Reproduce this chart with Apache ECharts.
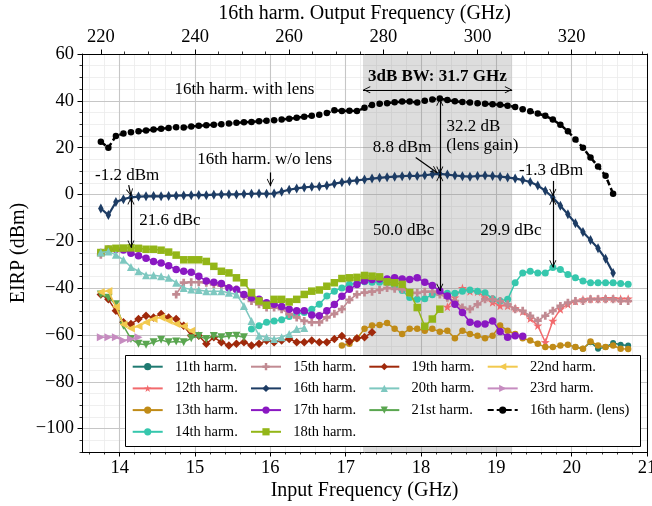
<!DOCTYPE html>
<html>
<head>
<meta charset="utf-8">
<title>EIRP vs input frequency</title>
<script src="https://cdn.jsdelivr.net/npm/echarts@6/dist/echarts.min.js"></script>
<style>
  html, body { margin: 0; padding: 0; background: #ffffff; }
  #chart { width: 652px; height: 506px; }
</style>
</head>
<body>
<div id="chart"></div>
<script>
// ---------------- measured sweeps (input frequency step 0.1 GHz) ----------------
const FREQ_STEP = 0.1;

// 16th harmonic, with lens
const lensStart = 13.75;
const lensEIRP = [
  22.5, 20.0, 25.0, 26.0, 26.6, 27.0, 27.3, 27.7, 28.1, 28.4,
  28.7, 28.6, 29.0, 29.3, 29.6, 29.8, 30.0, 30.3, 30.6, 30.8,
  31.0, 31.3, 31.5, 31.7, 32.0, 32.3, 32.8, 33.2, 33.6, 34.0,
  34.8, 36.0, 35.6, 35.8, 35.6, 37.0, 38.2, 38.7, 39.0, 39.4,
  39.7, 39.7, 39.3, 40.0, 40.6, 41.0, 40.3, 39.8, 39.5, 39.3,
  39.0, 38.8, 38.5, 38.3, 37.9, 37.4, 36.4, 35.5, 34.6, 33.6,
  32.0, 29.8, 27.0, 23.5, 20.0, 15.8, 12.0, 8.0, 0.3
];

// 16th harmonic, without lens
const noLensStart = 13.75;
const noLensEIRP = [
  -6.0, -8.8, -3.2, -2.0, -1.2, -0.9, -0.8, -0.7, -0.8, -0.6,
  -0.5, -0.4, -0.3, -0.2, -0.3, -0.1, 0.0, 0.1, 0.0, 0.2,
  0.3, 0.4, 0.3, 0.4, 1.2, 2.0, 2.6, 3.0, 3.3, 3.4,
  3.8, 4.6, 5.2, 5.7, 6.0, 6.4, 6.8, 7.1, 7.4, 7.6,
  7.8, 8.0, 7.9, 8.2, 8.6, 8.8, 8.5, 8.1, 7.8, 7.6,
  7.9, 8.1, 7.9, 7.6, 7.3, 6.8, 6.2, 5.3, 3.8, 1.6,
  -1.3, -4.8, -8.5, -12.3, -16.0, -19.5, -23.0, -27.5, -33.5
];

// other harmonics (first measured frequency + readings)
const h11Start = 20.05;
const h11 = [-65.2, -65.9, -63.1, -65.9, -65.2, -63.4, -64.2, -64.5];

const h12Start = 18.35;
const h12 = [
  -48.0, -44.0, -40.0, -41.3, -41.5, -44.0, -46.0, -47.5, -47.5, -48.5,
  -50.0, -53.0, -56.0, -63.1, -54.0, -49.0, -46.9, -45.5, -44.8, -44.5,
  -44.5, -44.3, -44.3, -44.5, -44.5
];

const h13Start = 16.95;
const h13 = [
  -64.5, -63.8, -61.5, -57.4, -56.0, -55.8, -54.9, -57.4, -59.6, -57.4,
  -57.4, -58.2, -57.4, -58.6, -58.2, -61.4, -58.2, -59.6, -60.3, -61.4,
  -60.3, -56.0, -58.2, -59.6, -61.4, -62.4, -63.8, -65.2, -65.2, -64.5,
  -64.2, -65.2, -65.9, -62.8, -64.5, -65.2, -64.5, -65.9, -66.0
];

const h14Start = 15.75;
const h14 = [
  -57.5, -56.1, -54.6, -54.0, -53.5, -52.1, -51.1, -50.4, -49.0, -46.9,
  -43.4, -41.3, -39.9, -38.4, -37.7, -37.3, -37.5, -37.5, -37.7, -39.5,
  -41.0, -44.0, -44.8, -44.5, -42.8, -42.0, -42.2, -42.2, -41.3, -40.8,
  -41.3, -42.0, -44.5, -45.5, -44.8, -37.7, -33.5, -32.8, -33.5, -33.5,
  -31.2, -32.1, -34.2, -35.6, -37.0, -37.7, -37.7, -37.7, -37.7, -38.0,
  -38.4
];

const h15Start = 13.75;
const h15 = [
  -25.8, null, null, null, null, null, null, null, null, null,
  -42.7, -37.7, -37.5, -37.5, -37.7, -38.4, -38.9, -39.9, -40.6, -43.4,
  -45.5, -46.9, -48.3, -48.3, -49.0, -51.1, -52.5, -54.0, -54.6, -54.6,
  -52.5, -51.0, -49.0, -45.0, -42.7, -41.9, -41.5, -40.8, -40.0, -40.3,
  -40.5, -42.0, -42.0, -41.5, -41.5, -42.7, -44.1, -45.5, -48.3, -49.0,
  -46.9, -44.8, -44.8, -45.5, -46.9, -49.0, -49.7, -51.8, -53.9, -51.8,
  -49.7, -47.6, -46.2, -45.5, -45.5, -44.8, -44.8, -44.8, -44.8, -45.5,
  -45.5
];

const h17Start = 13.75;
const h17 = [
  -24.8, -23.4, -23.4, -23.7, -25.1, -26.2, -27.2, -28.6, -29.3, -30.4,
  -32.1, -32.8, -33.2, -34.9, -37.0, -37.5, -38.0, -39.9, -40.6, -42.7,
  -44.1, -44.8, -46.2, -46.9, -47.9, -49.0, -49.7, -49.7, -51.5, -51.8,
  -49.7, -47.0, -43.5, -40.5, -38.5, -37.0, -36.3, -36.1, -36.1, -35.6,
  -36.1, -36.3, -35.6, -37.5, -38.9, -41.2, -43.4, -46.9, -50.4, -54.6,
  -55.3, -55.3, -54.0, -58.5, -61.0, -60.3, -60.6
];

const h18Start = 13.75;
const h18 = [
  -24.8, -23.3, -23.0, -22.9, -22.8, -23.0, -23.4, -23.4, -23.8, -24.6,
  -25.9, -27.9, -27.9, -27.9, -28.6, -30.7, -32.8, -33.5, -35.6, -37.7,
  -42.0, -45.5, -47.3, -44.8, -44.8, -45.9, -44.8, -42.7, -41.3, -40.8,
  -39.2, -37.7, -35.9, -35.6, -35.4, -34.6, -34.9, -35.2, -37.3, -37.7,
  -38.4, -41.9, -48.3, -56.3, -53.2, -49.0
];

const h19Start = 13.75;
const h19 = [
  -42.7, -44.8, -49.7, -54.6, -55.3, -53.2, -51.8, -52.5, -51.1, -52.5,
  -53.2, -56.1, -60.3, -60.3, -63.8, -61.0, -63.1, -64.5, -63.8, -63.1,
  -64.5, -63.8, -62.4, -63.1, -62.4, -61.7, -63.1, -63.1, -62.4, -63.1,
  -63.1, -61.7, -60.5, -62.8, -61.4, -61.0, -58.8
];

const h20Start = 13.75;
const h20 = [
  -24.8, -24.4, -25.8, -27.9, -31.0, -32.8, -34.5, -34.5, -34.9, -35.6,
  -37.7, -39.9, -40.6, -40.8, -41.3, -41.3, -41.3, -42.0, -42.7, -47.6,
  -54.0, -60.3, -61.0, -61.7, -61.0, -59.6, -57.5, -57.0
];

const h21Start = 13.75;
const h21 = [
  -42.7, -44.1, -46.9, -56.1, -61.7, -63.8, -64.2, -63.1, -62.1, -63.1,
  -62.8, -63.1, -61.4, -60.5, -61.7, -60.5, -61.0, -60.5, -60.3, -61.0
];

const h22Start = 13.75;
const h22 = [-41.7, -41.2, -48.0, -55.5, -57.2, -56.3, -54.6, -53.2, -52.5, -53.9, -55.3, -56.3, -58.2];

const h23Start = 13.75;
const h23 = [-61.0, -61.0, -61.0, -62.4, -61.7, -61.0];

// 3 dB bandwidth of the lens output (input-frequency edges, GHz)
const bwEdges = [17.23, 19.21];

// axis tick values
const inputTicks = [14, 21, 1];        // first, last, step (GHz)
const outputTicks = [220, 340, 20];    // 16th harmonic output frequency (GHz)
const eirpTicks = [-100, 60, 20];      // dBm

// legend layout: column-wise
const legendColumns = [
  ['11th harm.', '12th harm.', '13th harm.', '14th harm.'],
  ['15th harm.', '16th harm.', '17th harm.', '18th harm.'],
  ['19th harm.', '20th harm.', '21st harm.'],
  ['22nd harm.', '23rd harm.', '16th harm. (lens)']
];

// ---------------- drawing ----------------
const FONT = '"Liberation Serif", "Times New Roman", serif';
const PLOT = { left: 82, right: 5, top: 54, bottom: 54 };
const X_RANGE = [13.5, 21];
const Y_RANGE = [-110, 60];
const CW = 652, CH = 506;
const pxPerGHz = (CW - PLOT.left - PLOT.right) / (X_RANGE[1] - X_RANGE[0]);
const pxPerDb = (CH - PLOT.top - PLOT.bottom) / (Y_RANGE[1] - Y_RANGE[0]);
const HARM = 16;

const STAR = 'path://M0,-10 L2.35,-3.24 L9.51,-3.09 L3.8,1.24 L5.88,8.09 L0,4 L-5.88,8.09 L-3.8,1.24 L-9.51,-3.09 L-2.35,-3.24 Z';
const PLUS = 'path://M-1.7,-5 L1.7,-5 L1.7,-1.7 L5,-1.7 L5,1.7 L1.7,1.7 L1.7,5 L-1.7,5 L-1.7,1.7 L-5,1.7 L-5,-1.7 L-1.7,-1.7 Z';
const TRI_DOWN = 'path://M-5.8,-5 L5.8,-5 L0,5 Z';
const TRI_LEFT = 'path://M-5,0 L5,-5.8 L5,5.8 Z';
const TRI_RIGHT = 'path://M5,0 L-5,-5.8 L-5,5.8 Z';
// open arrow head; the tip sits at the centre of the symbol box
const ARROW = 'path://M0,-9.6 M0,0 L5,9 L4,9.6 L0,2.3 L-4,9.6 L-5,9 Z';

function pairs(start, values) {
  return values.map((v, i) => [Math.round((start + i * FREQ_STEP) * 100) / 100, v]);
}
function valueAt(start, values, f) {
  return values[Math.round((f - start) / FREQ_STEP)];
}

const traces = [
  { name: '11th harm.', start: h11Start, values: h11, color: '#1f7a71', symbol: 'circle', size: 6 },
  { name: '12th harm.', start: h12Start, values: h12, color: '#f26a6d', symbol: STAR, size: 9 },
  { name: '13th harm.', start: h13Start, values: h13, color: '#c08b17', symbol: 'circle', size: 6.5 },
  { name: '14th harm.', start: h14Start, values: h14, color: '#36c7ad', symbol: 'circle', size: 7 },
  { name: '15th harm.', start: h15Start, values: h15, color: '#c18a92', symbol: PLUS, size: 8 },
  { name: '16th harm.', start: noLensStart, values: noLensEIRP, color: '#1d3c64', symbol: 'diamond', size: [5.5, 10], width: 2.2 },
  { name: '17th harm.', start: h17Start, values: h17, color: '#8a18c2', symbol: 'circle', size: 7.5 },
  { name: '18th harm.', start: h18Start, values: h18, color: '#93b618', symbol: 'rect', size: 7.5 },
  { name: '19th harm.', start: h19Start, values: h19, color: '#a0290b', symbol: 'diamond', size: 8.5 },
  { name: '20th harm.', start: h20Start, values: h20, color: '#7ec8c0', symbol: 'triangle', size: 8 },
  { name: '21st harm.', start: h21Start, values: h21, color: '#5aa650', symbol: TRI_DOWN, size: 8 },
  { name: '22nd harm.', start: h22Start, values: h22, color: '#f2c94e', symbol: TRI_LEFT, size: 8 },
  { name: '23rd harm.', start: h23Start, values: h23, color: '#c68cc0', symbol: TRI_RIGHT, size: 8 },
  { name: '16th harm. (lens)', start: lensStart, values: lensEIRP, color: '#000000', symbol: 'circle', size: 6.5, width: 2.5, dash: [6, 3] }
];

const series = [];

// shaded 3 dB band
series.push({
  type: 'line', name: 'band', data: [], xAxisIndex: 0, yAxisIndex: 0, z: 1, silent: true,
  markArea: {
    silent: true,
    itemStyle: { color: 'rgba(128,128,128,0.27)' },
    data: [[{ xAxis: bwEdges[0] }, { xAxis: bwEdges[1] }]]
  }
});

traces.forEach((t, i) => {
  series.push({
    type: 'line', name: t.name, xAxisIndex: 0, yAxisIndex: 0,
    data: pairs(t.start, t.values),
    symbol: t.symbol, symbolSize: t.size, connectNulls: false,
    lineStyle: { color: t.color, width: t.width || 1.5, type: t.dash || 'solid' },
    itemStyle: { color: t.color },
    emphasis: { disabled: true },
    z: 2 + i * 0.01
  });
});

// annotation values taken from the sweeps
const fLow = 14.15, fMid = 18.25, fHigh = 19.75;
const lowCarrier = valueAt(noLensStart, noLensEIRP, fLow);
const lowSpur = valueAt(h18Start, h18, fLow);
const midCarrier = valueAt(noLensStart, noLensEIRP, fMid);
const midLens = valueAt(lensStart, lensEIRP, fMid);
const midSpur = valueAt(h17Start, h17, fMid);
const highCarrier = valueAt(noLensStart, noLensEIRP, fHigh);
const highSpur = valueAt(h14Start, h14, fHigh);

const A = ARROW, N = 'none';
const arrows = [
  [[bwEdges[0], 44.7, A], [bwEdges[1], 44.7, A]],
  [[16.0, 9.4, N], [16.0, 3.5, A]],
  [[14.12, 4.0, N], [fLow, lowCarrier + 0.5, A]],
  [[fLow, lowCarrier, A], [fLow, lowSpur, A]],
  [[17.93, 15.8, N], [fMid - 0.03, midCarrier + 0.4, A]],
  [[fMid, midCarrier, A], [fMid, midLens, A]],
  [[fMid, midCarrier, A], [fMid, midSpur, A]],
  [[fHigh, 5.8, N], [fHigh, highCarrier + 0.5, A]],
  [[fHigh, highCarrier, A], [fHigh, highSpur, A]]
];

const notes = [
  [18.217, 50.3, '3dB BW: 31.7 GHz', 'bold'],
  [15.657, 44.8, '16th harm. with lens'],
  [15.925, 15.1, '16th harm. w/o lens'],
  [14.10, 8.2, '-1.2 dBm'],
  [14.666, -11.0, '21.6 dBc'],
  [17.749, 20.0, '8.8 dBm'],
  [18.695, 29.2, '32.2 dB'],
  [18.815, 20.7, '(lens gain)'],
  [17.77, -15.6, '50.0 dBc'],
  [19.728, 10.1, '-1.3 dBm'],
  [19.193, -15.6, '29.9 dBc']
];

series.push({
  type: 'line', name: 'notes', data: [], xAxisIndex: 0, yAxisIndex: 0, z: 6, silent: true,
  markLine: {
    silent: true, animation: false, precision: 4,
    symbolSize: [7, 15],
    lineStyle: { color: '#000', width: 1.2, type: 'solid' },
    label: { show: false },
    data: arrows.map(([a, b]) => [
      { coord: [a[0], a[1]], symbol: a[2] },
      { coord: [b[0], b[1]], symbol: b[2] }
    ])
  },
  markPoint: {
    silent: true, animation: false,
    symbol: 'circle', symbolSize: 1,
    itemStyle: { color: 'rgba(0,0,0,0)' },
    label: { show: true, position: 'inside', color: '#000', fontFamily: FONT, fontSize: 17 },
    data: notes.map(n => ({
      coord: [n[0], n[1]],
      label: { formatter: n[2], fontWeight: n[3] || 'normal' }
    }))
  }
});

const tickText = { fontFamily: FONT, fontSize: 18.5, color: '#000' };
const nameText = { fontFamily: FONT, fontSize: 20, color: '#000' };
const minus = v => (v < 0 ? '\u2212' + Math.abs(v) : String(v));
const majorSplit = { show: true, lineStyle: { color: '#c6c6c6', width: 1.1 } };
const minorSplit = { show: true, lineStyle: { color: '#ebebeb', width: 0.8 } };
const majorTick = { show: true, inside: false, length: 4.5, lineStyle: { color: '#000', width: 1 } };
const minorTick = { show: true, inside: false, length: 2.5, lineStyle: { color: '#000', width: 0.8 } };
const hiddenAxis = (gridIndex, min, max) => ({ type: 'value', gridIndex, min, max, show: false });

const grids = [
  // 0: data area
  { left: PLOT.left, right: PLOT.right, top: PLOT.top, bottom: PLOT.bottom },
  // 1: input-frequency major ticks / grid
  { left: PLOT.left + (inputTicks[0] - X_RANGE[0]) * pxPerGHz, right: PLOT.right, top: PLOT.top, bottom: PLOT.bottom },
  // 2: input-frequency minor ticks / grid (0.2 GHz)
  { left: PLOT.left + (13.6 - X_RANGE[0]) * pxPerGHz, right: PLOT.right, top: PLOT.top, bottom: PLOT.bottom },
  // 3: EIRP major ticks / grid
  { left: PLOT.left, right: PLOT.right, top: PLOT.top, bottom: PLOT.bottom + (eirpTicks[0] - Y_RANGE[0]) * pxPerDb },
  // 4: EIRP minor ticks / grid (5 dB)
  { left: PLOT.left, right: PLOT.right, top: PLOT.top, bottom: PLOT.bottom },
  // 5, 6: output-frequency ticks (16 x input)
  { left: PLOT.left + (outputTicks[0] / HARM - X_RANGE[0]) * pxPerGHz, right: PLOT.right - (outputTicks[1] / HARM - X_RANGE[1]) * pxPerGHz, top: PLOT.top, bottom: PLOT.bottom },
  { left: PLOT.left + (outputTicks[0] / HARM - X_RANGE[0]) * pxPerGHz, right: PLOT.right - (outputTicks[1] / HARM - X_RANGE[1]) * pxPerGHz, top: PLOT.top, bottom: PLOT.bottom }
].map(g => Object.assign({ outerBoundsMode: 'none', containLabel: false }, g));

const xAxes = [
  // data axis (bottom frame + title)
  {
    type: 'value', gridIndex: 0, position: 'bottom', min: X_RANGE[0], max: X_RANGE[1], z: 10,
    name: 'Input Frequency (GHz)', nameLocation: 'middle', nameGap: 29, nameTextStyle: nameText,
    axisLine: { show: true, onZero: false, lineStyle: { color: '#000', width: 1 } },
    axisTick: { show: false }, axisLabel: { show: false }, splitLine: { show: false }
  },
  // top frame + title
  {
    type: 'value', gridIndex: 0, position: 'top', min: X_RANGE[0], max: X_RANGE[1], z: 10,
    name: '16th harm. Output Frequency (GHz)', nameLocation: 'middle', nameGap: 30, nameTextStyle: nameText,
    axisLine: { show: true, onZero: false, lineStyle: { color: '#000', width: 1 } },
    axisTick: { show: false }, axisLabel: { show: false }, splitLine: { show: false }
  },
  {
    type: 'value', gridIndex: 1, position: 'bottom', min: inputTicks[0], max: inputTicks[1], interval: inputTicks[2], z: 1,
    axisLine: { show: false, onZero: false }, axisTick: majorTick,
    axisLabel: Object.assign({ margin: 7 }, tickText), splitLine: majorSplit
  },
  {
    type: 'value', gridIndex: 2, position: 'bottom', min: 13.6, max: X_RANGE[1], interval: 0.2, z: 0,
    axisLine: { show: false, onZero: false }, axisTick: minorTick,
    axisLabel: { show: false }, splitLine: minorSplit
  },
  hiddenAxis(3, X_RANGE[0], X_RANGE[1]),
  hiddenAxis(4, X_RANGE[0], X_RANGE[1]),
  {
    type: 'value', gridIndex: 5, position: 'top', min: outputTicks[0], max: outputTicks[1], interval: outputTicks[2], z: 1,
    axisLine: { show: false, onZero: false }, axisTick: majorTick,
    axisLabel: Object.assign({ margin: 7, showMaxLabel: false }, tickText), splitLine: { show: false }
  },
  {
    type: 'value', gridIndex: 6, position: 'top', min: outputTicks[0], max: outputTicks[1], interval: 5, z: 1,
    axisLine: { show: false, onZero: false }, axisTick: minorTick,
    axisLabel: { show: false }, splitLine: { show: false }
  }
];

const yAxes = [
  {
    type: 'value', gridIndex: 0, position: 'left', min: Y_RANGE[0], max: Y_RANGE[1], z: 10,
    name: 'EIRP (dBm)', nameLocation: 'middle', nameGap: 53, nameRotate: 90, nameTextStyle: nameText,
    axisLine: { show: true, onZero: false, lineStyle: { color: '#000', width: 1 } },
    axisTick: { show: false }, axisLabel: { show: false }, splitLine: { show: false }
  },
  {
    type: 'value', gridIndex: 0, position: 'right', min: Y_RANGE[0], max: Y_RANGE[1], z: 10,
    axisLine: { show: true, onZero: false, lineStyle: { color: '#000', width: 1 } },
    axisTick: { show: false }, axisLabel: { show: false }, splitLine: { show: false }
  },
  hiddenAxis(1, Y_RANGE[0], Y_RANGE[1]),
  hiddenAxis(2, Y_RANGE[0], Y_RANGE[1]),
  {
    type: 'value', gridIndex: 3, position: 'left', min: eirpTicks[0], max: eirpTicks[1], interval: eirpTicks[2], z: 1,
    axisLine: { show: false, onZero: false }, axisTick: majorTick,
    axisLabel: Object.assign({ margin: 8, formatter: minus }, tickText), splitLine: majorSplit
  },
  {
    type: 'value', gridIndex: 4, position: 'left', min: Y_RANGE[0], max: Y_RANGE[1], interval: 5, z: 0,
    axisLine: { show: false, onZero: false }, axisTick: minorTick,
    axisLabel: { show: false }, splitLine: minorSplit
  },
  hiddenAxis(5, Y_RANGE[0], Y_RANGE[1]),
  hiddenAxis(6, Y_RANGE[0], Y_RANGE[1])
];

const legendLeft = [131.7, 250, 368.3, 486.7];
const legends = legendColumns.map((names, i) => ({
  show: true, orient: 'vertical', left: legendLeft[i], top: 358.7, padding: 0,
  itemGap: 5.7, itemWidth: 30, itemHeight: 9, selectedMode: false, z: 8,
  data: names,
  // two spaces widen the gap between the key and its text
  formatter: name => '\u00a0\u00a0' + name,
  textStyle: { fontFamily: FONT, fontSize: 14.5, color: '#000', lineHeight: 16 }
}));

const chart = echarts.init(document.getElementById('chart'), null, { renderer: 'canvas', width: CW, height: CH });
chart.setOption({
  animation: false,
  backgroundColor: '#ffffff',
  textStyle: { fontFamily: FONT },
  grid: grids,
  xAxis: xAxes,
  yAxis: yAxes,
  legend: legends,
  graphic: [{
    type: 'rect', left: 125, top: 355, z: 7, silent: true,
    shape: { x: 0, y: 0, width: 515, height: 91 },
    style: { fill: '#ffffff', stroke: '#000000', lineWidth: 1 }
  }],
  series: series
});
</script>
</body>
</html>
